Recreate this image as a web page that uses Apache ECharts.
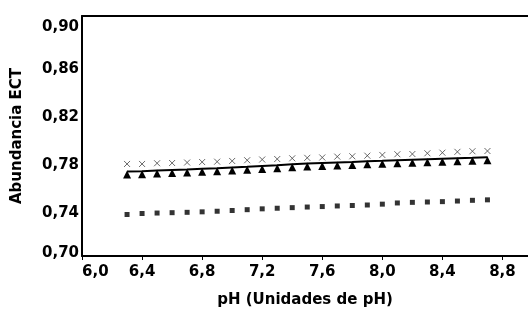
<!DOCTYPE html>
<html lang="es">
<head>
<meta charset="UTF-8">
<title>Abundancia ECT</title>
<script src="https://cdn.jsdelivr.net/npm/echarts@6/dist/echarts.min.js"></script>
<style>
  html, body { margin: 0; padding: 0; background: #fff; }
  #main { width: 528px; height: 309px; }
</style>
</head>
<body>
<div id="main"></div>
<script>
// pH values (x)
var phValues = [6.3, 6.4, 6.5, 6.6, 6.7, 6.8, 6.9, 7.0, 7.1, 7.2, 7.3, 7.4, 7.5,
                7.6, 7.7, 7.8, 7.9, 8.0, 8.1, 8.2, 8.3, 8.4, 8.5, 8.6, 8.7];

// crosses (gray x)
var crossValues = [0.7767, 0.7767, 0.7773, 0.7775, 0.7779, 0.7783, 0.7786, 0.7792, 0.7798,
                   0.7804, 0.7808, 0.7814, 0.7818, 0.7821, 0.7828, 0.7831, 0.7836, 0.7842,
                   0.7848, 0.7850, 0.7856, 0.7861, 0.7868, 0.7873, 0.7875];

// triangles with line
var triValues = [0.7704, 0.7707, 0.7713, 0.7717, 0.7721, 0.7727, 0.7731, 0.7738, 0.7743,
                 0.7750, 0.7756, 0.7764, 0.7771, 0.7775, 0.7779, 0.7783, 0.7789, 0.7793,
                 0.7798, 0.7802, 0.7806, 0.7810, 0.7814, 0.7818, 0.7823];

// small squares
var squareValues = [0.7346, 0.7354, 0.7358, 0.7361, 0.7364, 0.7368, 0.7373, 0.7379, 0.7386,
                    0.7393, 0.7398, 0.7403, 0.7408, 0.7412, 0.7417, 0.7421, 0.7425, 0.7432,
                    0.7442, 0.7447, 0.7450, 0.7453, 0.7458, 0.7464, 0.7468];

function pairs(ys) {
    return phValues.map(function (x, i) { return [x, ys[i]]; });
}

var font = 'DejaVu Sans, sans-serif';
var lbl = {fontFamily: font, fontSize: 15, fontWeight: 'bold', color: '#000'};
var chart = echarts.init(document.getElementById('main'), null, {renderer: 'canvas'});

var option = {
    animation: false,
    grid: {left: 82, top: 16, bottom: 53, right: 0, outerBoundsMode: 'none'},
    xAxis: [{
        type: 'value',
        min: 6.0, max: 8.97, interval: 0.4,
        name: 'pH (Unidades de pH)',
        nameLocation: 'middle',
        nameGap: 37,
        nameTextStyle: lbl,
        axisLine: {onZero: false, lineStyle: {color: '#000', width: 2}},
        axisTick: {show: true, length: 4, lineStyle: {color: '#000'}},
        splitLine: {show: false},
        axisLabel: Object.assign({}, lbl, {
            margin: 9, alignMinLabel: 'left', showMaxLabel: false,
            formatter: function (v) {
                if (v > 8.85) return '';
                return v.toFixed(1).replace('.', ',');
            }
        })
    }, {
        // top frame line only
        type: 'value', position: 'top',
        min: 6.0, max: 8.97,
        axisLine: {show: true, onZero: false, lineStyle: {color: '#000', width: 2}},
        axisTick: {show: false}, axisLabel: {show: false}, splitLine: {show: false}
    }],
    yAxis: {
        type: 'value',
        min: 0.70, max: 0.90, interval: 0.04,
        name: 'Abundancia ECT',
        nameLocation: 'middle',
        nameGap: 57,
        nameTextStyle: lbl,
        axisLine: {show: true, onZero: false, lineStyle: {color: '#000', width: 2}},
        axisTick: {show: false},
        splitLine: {show: false},
        axisLabel: Object.assign({}, lbl, {
            margin: 3,
            formatter: function (v) {
                var s = v.toFixed(2).replace('.', ',');
                if (v > 0.89) return '{t|' + s + '}';
                if (v < 0.71) return '{b|' + s + '}';
                return '{m|' + s + '}';
            },
            rich: {
                t: Object.assign({}, lbl, {padding: [22, 0, 0, 0]}),
                m: Object.assign({}, lbl, {padding: [10, 0, 0, 0]}),
                b: Object.assign({}, lbl, {padding: [0, 0, 6, 0]})
            }
        })
    },
    series: [
        {
            name: 'cruces',
            type: 'scatter',
            data: pairs(crossValues),
            symbol: 'path://M0,0L10,10M10,0L0,10',
            symbolSize: 6,
            itemStyle: {color: 'none', borderColor: '#444', borderWidth: 1}
        },
        {
            name: 'triangulos',
            type: 'line',
            data: pairs(triValues),
            symbol: 'triangle',
            symbolSize: [8, 8],
            symbolOffset: [0, 3],
            showAllSymbol: true,
            lineStyle: {color: '#000', width: 2},
            itemStyle: {color: '#000'}
        },
        {
            name: 'cuadrados',
            type: 'scatter',
            data: pairs(squareValues),
            symbol: 'rect',
            symbolSize: 5,
            itemStyle: {color: '#000'}
        }
    ]
};

chart.setOption(option);
</script>
</body>
</html>
